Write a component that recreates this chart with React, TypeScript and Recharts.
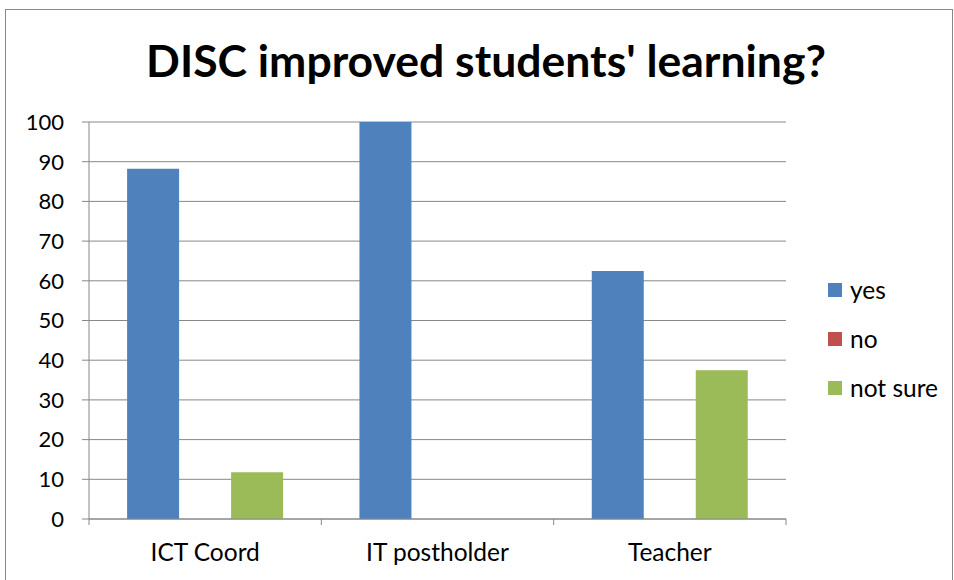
import React from "react"
import { BarChart, Bar, XAxis, YAxis, CartesianGrid, Legend } from "recharts"

const categories = ["ICT Coord", "IT postholder", "Teacher"]
const yesValues = [88.2, 100, 62.5]
const noValues = [0, 0, 0]
const notSureValues = [11.8, 0, 37.5]
const yTicks = [0, 10, 20, 30, 40, 50, 60, 70, 80, 90, 100]
const seriesNames = ["yes", "no", "not sure"]
const seriesKeys = ["yes", "no", "notSure"]
const seriesColors = ["#4F81BD", "#C0504D", "#9BBB59"]

const data = categories.map((category, i) => ({
  category,
  yes: yesValues[i],
  no: noValues[i],
  notSure: notSureValues[i],
}))

const lineColor = "#888888"
const font = "Lato, 'Open Sans', sans-serif"

function CategoryTick(props: any) {
  const { x, y, payload, index } = props
  const half = payload.offset ?? 116
  const last = index === categories.length - 1
  return (
    <g>
      <line x1={x - half} y1={y} x2={x - half} y2={y + 6} stroke={lineColor} />
      {last && <line x1={x + half} y1={y} x2={x + half} y2={y + 6} stroke={lineColor} />}
      <text x={x} y={y + 42} textAnchor="middle" fill="#000" fontSize={24.5} fontFamily={font}>
        {payload.value}
      </text>
    </g>
  )
}

function LegendContent(props: any) {
  // keep series order, recharts sorts by name otherwise
  const items = [...(props.payload || [])].sort(
    (a: any, b: any) => seriesNames.indexOf(a.value) - seriesNames.indexOf(b.value)
  )
  return (
    <div style={{ fontFamily: font, fontSize: 24.5, color: "#000" }}>
      {items.map((item: any) => (
        <div key={item.value} style={{ display: "flex", alignItems: "center", height: 49 }}>
          <span style={{ width: 14, height: 14, background: item.color, marginRight: 8 }} />
          <span>{item.value}</span>
        </div>
      ))}
    </div>
  )
}

export default function App() {
  return (
    <div
      style={{
        position: "fixed",
        left: 0,
        top: 0,
        width: 954,
        height: 580,
        overflow: "hidden",
        background: "#fff",
      }}
    >
      <div
        style={{
          position: "absolute",
          left: 5,
          top: 9,
          width: 946,
          height: 620,
          border: `1px solid ${lineColor}`,
        }}
      />
      <div
        style={{
          position: "absolute",
          left: 486,
          top: 38,
          transform: "translateX(-50%)",
          whiteSpace: "nowrap",
          fontFamily: font,
          fontWeight: 700,
          fontSize: 44.5,
          lineHeight: "44px",
          color: "#000",
        }}
      >
        DISC improved students' learning?
      </div>
      <div style={{ position: "absolute", left: 0, top: 0 }}>
        <BarChart
          width={954}
          height={580}
          data={data}
          margin={{ top: 122, right: 168, bottom: 0, left: 0 }}
          barCategoryGap="16.4%"
          barGap={0}
          style={{ fontFamily: font }}
        >
          <CartesianGrid vertical={false} stroke={lineColor} />
          <XAxis
            dataKey="category"
            height={61}
            axisLine={{ stroke: lineColor }}
            tickLine={false}
            tickSize={0}
            tickMargin={0}
            interval={0}
            tick={<CategoryTick />}
          />
          <YAxis
            width={89}
            domain={[0, 100]}
            ticks={yTicks}
            interval={0}
            axisLine={{ stroke: lineColor }}
            tickLine={{ stroke: lineColor }}
            tickSize={7}
            tickMargin={18}
            tick={{ fill: "#000", fontSize: 22, fontFamily: font }}
          />
          <Legend
            layout="vertical"
            align="center"
            verticalAlign="middle"
            content={<LegendContent />}
            wrapperStyle={{ left: 828, top: 265, width: 124, height: 147 }}
          />
          {seriesKeys.map((key, i) => (
            <Bar
              key={key}
              dataKey={key}
              name={seriesNames[i]}
              fill={seriesColors[i]}
              isAnimationActive={false}
            />
          ))}
        </BarChart>
      </div>
    </div>
  )
}
